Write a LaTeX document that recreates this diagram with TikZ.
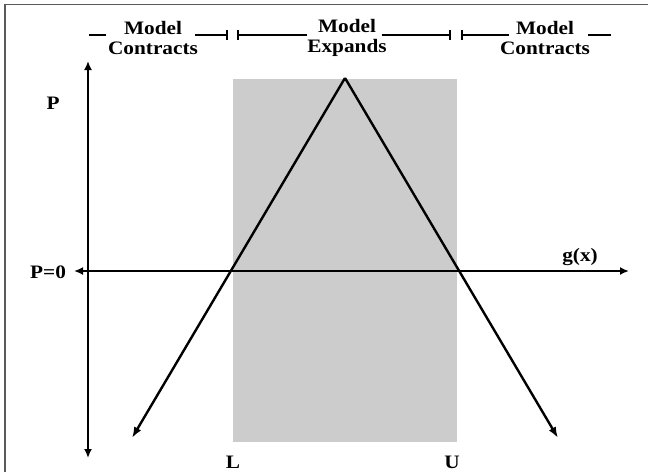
\documentclass[tikz,border=0pt]{standalone}
\usepackage{fontspec}
\setmainfont[FakeStretch=1.12]{Liberation Serif}
\usetikzlibrary{arrows.meta}
\begin{document}
\begin{tikzpicture}[x=1pt,y=-1pt,
  lbl/.style={font=\fontsize{19}{20}\selectfont\bfseries, inner sep=0pt, align=center},
  ax/.style={line width=2.4pt, {Latex[length=9pt,width=8pt]}-{Latex[length=9pt,width=8pt]}},
  ray/.style={line width=2.4pt, -{Latex[length=11pt,width=8pt]}},
  brk/.style={line width=2.4pt},
  barend/.style={line width=2.4pt, -{Bar[width=10pt,line width=1.8pt]}},
  barstart/.style={line width=2.4pt, {Bar[width=10pt,line width=1.8pt]}-}]
\useasboundingbox (0,0) rectangle (648,472);
% frame
\draw[line width=1.5pt, color=black!65] (5,472) -- (5,4.5) -- (648,4.5);
% shaded band
\fill[color=black!20] (233,79) rectangle (457,442);
% axes
\coordinate (vtop) at (88,61);
\coordinate (vbot) at (88,458);
\coordinate (hl) at (74,271);
\coordinate (hr) at (629,271);
\draw[ax] (vbot) -- (vtop);
\draw[ax] (hl) -- (hr);
% triangle
\coordinate (apex) at (345,78);
\coordinate (ltip) at (132,438);
\coordinate (rtip) at (558,438);
\draw[ray, line join=miter] (apex) -- (ltip);
\draw[ray] (apex) -- (rtip);
% labels
\node[lbl] (mc1) at (153,38) {Model\\Contracts};
\node[lbl] (me) at (347,38) {Model\\Expands};
\node[lbl] (mc2) at (545,38) {Model\\Contracts};
\node[lbl] (p) at (53,103) {P};
\node[lbl] (p0) at (48,272) {P=0};
\node[lbl] (gx) at (580,257) {g(x)};
\node[lbl] (l) at (233,462) {L};
\node[lbl] (u) at (452,462) {U};
% brackets
\coordinate (b1a) at (89,35); \coordinate (b1b) at (106,35);
\coordinate (b2a) at (195,35); \coordinate (b2b) at (228,35);
\coordinate (b3a) at (237,35); \coordinate (b3b) at (307,35);
\coordinate (b4a) at (382,35); \coordinate (b4b) at (451,35);
\coordinate (b5a) at (461,35); \coordinate (b5b) at (509,35);
\coordinate (b6a) at (588,35); \coordinate (b6b) at (611,35);
\draw[brk] (b1a) -- (b1b);
\draw[barend] (b2a) -- (b2b);
\draw[barstart] (b3a) -- (b3b);
\draw[barend] (b4a) -- (b4b);
\draw[barstart] (b5a) -- (b5b);
\draw[brk] (b6a) -- (b6b);
\end{tikzpicture}
\end{document}
